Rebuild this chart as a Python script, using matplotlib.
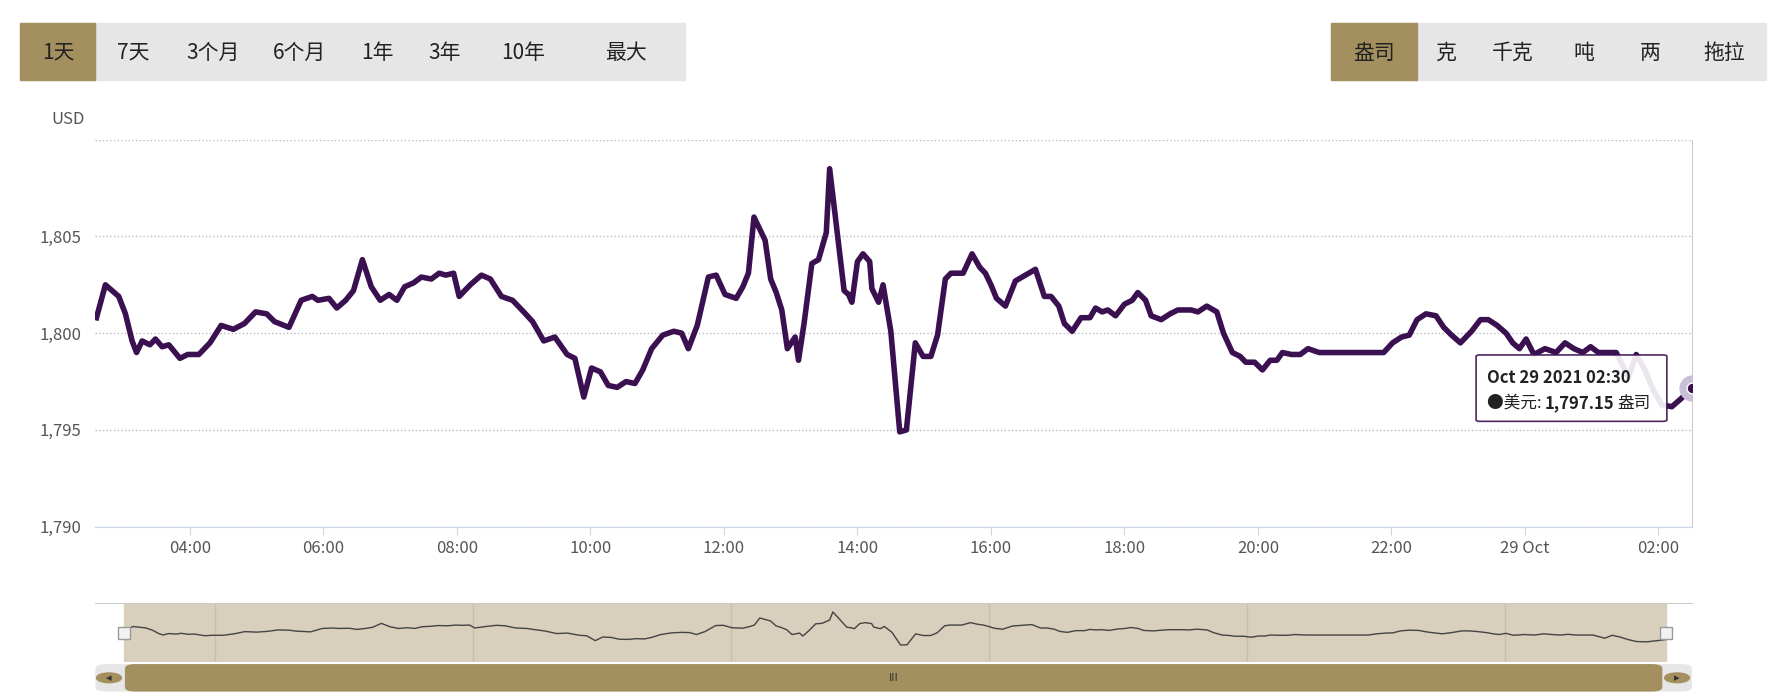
import matplotlib.pyplot as plt
from matplotlib.patches import FancyBboxPatch, Rectangle
import numpy as np

plt.rcParams['font.family'] = ['Noto Sans CJK SC', 'DejaVu Sans']

# minutes relative to 04:00 (Oct 28), price in USD/oz
minutes = [-84, -76, -64, -58, -52, -48, -43, -36, -31, -25, -19, -9, -2, 8, 18, 28, 39, 49, 59, 69,
           76, 89, 100, 110, 115, 125, 132, 140, 147, 155, 163, 171, 179, 186, 193, 201, 208, 217, 224, 230,
           237, 242, 252, 262, 270, 280, 290, 300, 308, 318, 328, 339, 346, 354, 361, 369, 376, 384, 392, 400,
           407, 415, 425, 435, 442, 448, 456, 466, 473, 481, 491, 497, 502, 507, 517, 522, 527, 532, 537, 544,
           547, 552, 559, 565, 572, 575, 588, 592, 595, 600, 605, 611, 613, 619, 623, 630, 638, 644, 652, 659,
           666, 672, 679, 684, 695, 703, 710, 715, 720, 725, 733, 742, 751, 760, 768, 774, 781, 786, 793, 801,
           809, 814, 820, 825, 832, 840, 847, 852, 859, 864, 873, 881, 888, 895, 900, 906, 914, 923, 929, 937,
           944, 949, 957, 964, 971, 977, 982, 990, 998, 1005, 1015, 1030, 1051, 1073, 1081, 1089, 1096, 1103, 1111, 1120,
           1127, 1134, 1142, 1152, 1160, 1167, 1175, 1183, 1189, 1195, 1201, 1208, 1218, 1228, 1236, 1244, 1252, 1259, 1266, 1274,
           1282, 1293, 1300, 1307, 1315, 1323, 1332, 1340, 1350]
prices = [1800.8, 1802.5, 1801.9, 1801.0, 1799.6, 1799.0, 1799.6, 1799.4, 1799.7, 1799.3, 1799.4, 1798.7, 1798.9, 1798.9, 1799.5, 1800.4, 1800.2, 1800.5, 1801.1, 1801.0,
          1800.6, 1800.3, 1801.7, 1801.9, 1801.7, 1801.8, 1801.3, 1801.7, 1802.2, 1803.8, 1802.4, 1801.7, 1802.0, 1801.7, 1802.4, 1802.6, 1802.9, 1802.8, 1803.1, 1803.0,
          1803.1, 1801.9, 1802.5, 1803.0, 1802.8, 1801.9, 1801.7, 1801.1, 1800.6, 1799.6, 1799.8, 1798.9, 1798.7, 1796.7, 1798.2, 1798.0, 1797.3, 1797.2, 1797.5, 1797.4,
          1798.1, 1799.2, 1799.9, 1800.1, 1800.0, 1799.2, 1800.4, 1802.9, 1803.0, 1802.0, 1801.8, 1802.4, 1803.1, 1806.0, 1804.8, 1802.8, 1802.1, 1801.2, 1799.2, 1799.8,
          1798.6, 1800.5, 1803.6, 1803.8, 1805.2, 1808.5, 1802.2, 1802.0, 1801.6, 1803.7, 1804.1, 1803.7, 1802.3, 1801.6, 1802.5, 1800.1, 1794.9, 1795.0, 1799.5, 1798.8,
          1798.8, 1799.9, 1802.8, 1803.1, 1803.1, 1804.1, 1803.4, 1803.1, 1802.5, 1801.8, 1801.4, 1802.7, 1803.0, 1803.3, 1801.9, 1801.9, 1801.4, 1800.5, 1800.1, 1800.8,
          1800.8, 1801.3, 1801.1, 1801.2, 1800.9, 1801.5, 1801.7, 1802.1, 1801.7, 1800.9, 1800.7, 1801.0, 1801.2, 1801.2, 1801.2, 1801.1, 1801.4, 1801.1, 1800.0, 1799.0,
          1798.8, 1798.5, 1798.5, 1798.1, 1798.6, 1798.6, 1799.0, 1798.9, 1798.9, 1799.2, 1799.0, 1799.0, 1799.0, 1799.0, 1799.5, 1799.8, 1799.9, 1800.7, 1801.0, 1800.9,
          1800.3, 1799.9, 1799.5, 1800.1, 1800.7, 1800.7, 1800.4, 1800.0, 1799.5, 1799.2, 1799.7, 1798.9, 1799.2, 1799.0, 1799.5, 1799.2, 1799.0, 1799.3, 1799.0, 1799.0,
          1799.0, 1797.7, 1798.9, 1798.2, 1797.1, 1796.3, 1796.2, 1796.6, 1797.15]

tick_pos = [0, 120, 240, 360, 480, 600, 720, 840, 960, 1080, 1200, 1320]
tick_labels = ['04:00', '06:00', '08:00', '10:00', '12:00', '14:00', '16:00', '18:00', '20:00', '22:00', '29 Oct', '02:00']
range_buttons = ['1天', '7天', '3个月', '6个月', '1年', '3年', '10年', '最大']
unit_buttons = ['盎司', '克', '千克', '吨', '两', '拖拉']

LINE = '#3a1050'
GOLD = '#a48f5f'
W, H = 1777, 695
fig = plt.figure(figsize=(17.77, 6.95), dpi=100)

def fx(px):
    return px / 1565
def fy(py):
    return 1 - py / 607

# buttons
def draw_buttons(x0, x1, labels, widths):
    bg = Rectangle((fx(x0), fy(70)), fx(x1 - x0), 50 / 607, transform=fig.transFigure,
                   color='#e6e6e6', zorder=0)
    fig.patches.append(bg)
    x = x0
    for i, (lab, w) in enumerate(zip(labels, widths)):
        if i == 0:
            fig.patches.append(Rectangle((fx(x), fy(70)), fx(w), 50 / 607, transform=fig.transFigure,
                                         color=GOLD, zorder=1))
        fig.text(fx(x + w / 2), fy(46), lab, ha='center', va='center', fontsize=15, color='#222222')
        x += w

draw_buttons(18, 603, range_buttons, [66, 66, 76, 76, 60, 60, 78, 103])
draw_buttons(1172, 1555, unit_buttons, [76, 50, 68, 58, 58, 73])

# main chart
ax = fig.add_axes([fx(84), fy(460), fx(1490 - 84), (460 - 122) / 607])
ax.plot(minutes, prices, color=LINE, lw=4, solid_joinstyle='round', zorder=3)
ax.scatter([minutes[-1]], [prices[-1]], s=320, color='#c9bfd6', zorder=4)
ax.scatter([minutes[-1]], [prices[-1]], s=60, color=LINE, edgecolor='white', lw=1, zorder=5)
ax.set_xlim(-85, 1350)
ax.set_ylim(1790, 1810)
ax.set_yticks([1790, 1795, 1800, 1805, 1810])
ax.set_yticklabels(['1,790', '1,795', '1,800', '1,805', ''])
ax.set_xticks(tick_pos)
ax.set_xticklabels(tick_labels)
ax.tick_params(axis='y', length=0, labelsize=12, colors='#555555', pad=10)
ax.tick_params(axis='x', length=6, labelsize=12, colors='#555555', color='#ccd6eb')
ax.grid(axis='y', linestyle=':', color='#bbbbbb', lw=1)
for s in ['top', 'left']:
    ax.spines[s].set_visible(False)
ax.spines['right'].set_color('#cccccc')
ax.spines['bottom'].set_color('#ccd6eb')
fig.text(fx(45), fy(104), 'USD', fontsize=12, color='#555555', va='center')

# tooltip
tip = FancyBboxPatch((fx(1300), fy(368)), fx(168), 58 / 607, boxstyle='round,pad=0,rounding_size=0.002',
                     transform=fig.transFigure, facecolor='white', edgecolor=LINE, lw=1.2, alpha=0.9, zorder=10)
fig.patches.append(tip)
fig.text(fx(1310), fy(330), 'Oct 29 2021 02:30', fontsize=12, weight='bold', color='#222222', va='center', zorder=11)
fig.text(fx(1310), fy(352), '●美元: ', fontsize=12, color='#222222', va='center', zorder=11)
fig.text(fx(1360), fy(352), '1,797.15', fontsize=12, weight='bold', color='#222222', va='center', zorder=11)
fig.text(fx(1424), fy(352), '盎司', fontsize=12, color='#222222', va='center', zorder=11)

# navigator
nav = fig.add_axes([fx(84), fy(578), fx(1490 - 84), (578 - 527) / 607])
nav.set_xlim(-111, 1374)
nav.set_ylim(1788, 1812)
nav.axvspan(minutes[0], minutes[-1], color='#d8cfbd', zorder=0)
nav.plot(minutes, prices, color='#444444', lw=1, zorder=2)
for g in range(0, 1350, 240):
    nav.axvline(g, color='#c8c0ae', lw=1, zorder=1)
nav.set_xticks([])
nav.set_yticks([])
for s in ['left', 'right', 'bottom']:
    nav.spines[s].set_visible(False)
nav.spines['top'].set_color('#cccccc')
for m in [minutes[0], minutes[-1]]:
    nav.plot([m], [1800], marker='s', ms=9, mfc='#f2f2f2', mec='#999999', zorder=3)

# scrollbar
fig.patches.append(FancyBboxPatch((fx(84), fy(604)), fx(1406), 24 / 607, boxstyle='round,pad=0,rounding_size=0.006',
                                  transform=fig.transFigure, facecolor='#e6e6e6', edgecolor='none'))
fig.patches.append(FancyBboxPatch((fx(110), fy(604)), fx(1354), 24 / 607, boxstyle='round,pad=0,rounding_size=0.006',
                                  transform=fig.transFigure, facecolor=GOLD, edgecolor='none'))
for cx in [96, 1477]:
    fig.patches.append(plt.Circle((fx(cx), fy(592)), 0.007, transform=fig.transFigure, color=GOLD))
fig.text(fx(96), fy(592), '◂', ha='center', va='center', fontsize=8, color='#333333', family='DejaVu Sans')
fig.text(fx(1477), fy(592), '▸', ha='center', va='center', fontsize=8, color='#333333', family='DejaVu Sans')
fig.text(fx(787), fy(592), 'III', ha='center', va='center', fontsize=8, color='#333333')

fig.savefig('out.png', dpi=100)
